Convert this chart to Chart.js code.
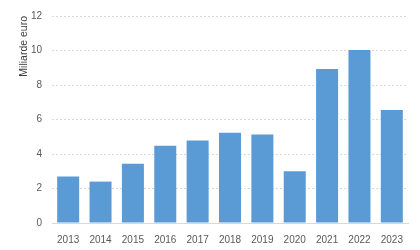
<!DOCTYPE html>
<html>
<head>
<meta charset="utf-8">
<script src="https://cdn.jsdelivr.net/npm/chart.js@4/dist/chart.umd.min.js"></script>
<style>
  html, body { margin: 0; padding: 0; background: #fff; }
  #wrap { width: 420px; height: 250px; }
</style>
</head>
<body>
<div id="wrap"><canvas id="chart" width="420" height="250"></canvas></div>
<script>
// Data
const years = ['2013', '2014', '2015', '2016', '2017', '2018', '2019', '2020', '2021', '2022', '2023'];
const values = [2.70, 2.40, 3.43, 4.48, 4.78, 5.23, 5.13, 3.00, 8.93, 10.03, 6.55];
const yTicks = [0, 2, 4, 6, 8, 10, 12];

const BAR_COLOR = '#5b9bd5';
const GRID_COLOR = '#d9d9d9';
const TEXT_COLOR = '#595959';
const FONT = 'Liberation Sans, Arial, sans-serif';

new Chart(document.getElementById('chart'), {
  type: 'bar',
  data: {
    labels: years,
    datasets: [{
      data: values,
      backgroundColor: BAR_COLOR,
      borderWidth: 0,
      barPercentage: 0.68,
      categoryPercentage: 1,
    }]
  },
  options: {
    responsive: false,
    animation: false,
    layout: { padding: { top: 11, right: 12, left: 0, bottom: 0 } },
    plugins: { legend: { display: false }, tooltip: { enabled: false } },
    scales: {
      x: {
        grid: { display: false },
        border: { display: true, color: GRID_COLOR },
        ticks: { color: TEXT_COLOR, font: { family: FONT, size: 10 }, padding: 3, maxRotation: 0 },
        afterFit: s => { s.height = 27; }
      },
      y: {
        min: 0,
        max: 12,
        afterBuildTicks: s => { s.ticks = yTicks.map(v => ({ value: v })); },
        grid: { color: GRID_COLOR, drawTicks: false },
        border: { display: false, dash: [2, 2] },
        ticks: { color: TEXT_COLOR, font: { family: FONT, size: 10 }, padding: 10 },
        title: {
          display: true,
          text: 'Miliarde euro',
          align: 'end',
          color: '#404040',
          font: { family: FONT, size: 10.5 },
          padding: { top: 18, bottom: 0 }
        },
        afterFit: s => { s.width = 52; }
      }
    }
  }
});
</script>
</body>
</html>
